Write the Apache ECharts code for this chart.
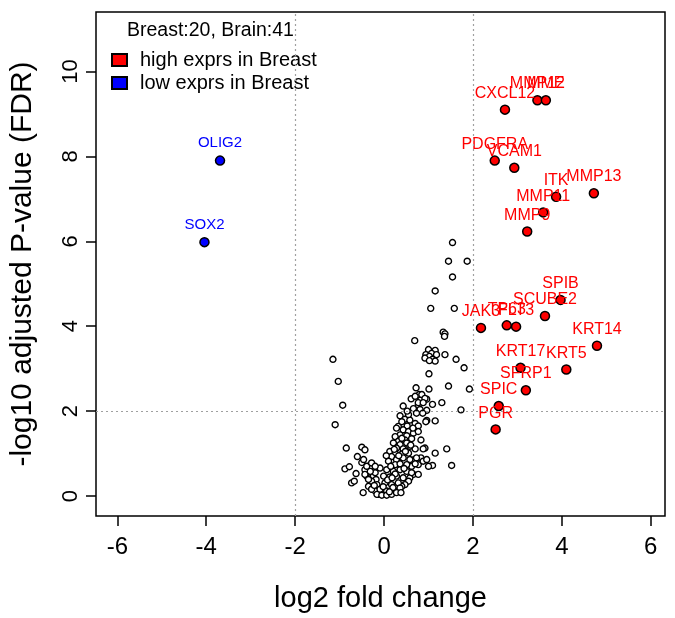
<!DOCTYPE html>
<html>
<head>
<meta charset="utf-8">
<script src="https://cdn.jsdelivr.net/npm/echarts@6/dist/echarts.min.js"></script>
<style>
html,body{margin:0;padding:0;background:#fff;}
#chart{width:675px;height:618px;}
</style>
</head>
<body>
<div id="chart"></div>
<script>
// ---- data ----
const xTicks = [-6, -4, -2, 0, 2, 4, 6];
const yTicks = [0, 2, 4, 6, 8, 10];

const highGenes = ["MMP12","MME","CXCL12","PDGFRA","VCAM1","MMP13","ITK","MMP11","MMP9",
  "SPIB","SCUBE2","JAK3","TP63","FLT3","KRT14","KRT5","KRT17","SFRP1","SPIC","PGR"];
const highX = [3.45,3.64,2.72,2.49,2.93,4.72,3.87,3.58,3.22,
  3.97,3.62,2.18,2.76,2.97,4.79,4.10,3.07,3.19,2.58,2.51];
const highY = [9.32,9.32,9.10,7.90,7.73,7.13,7.05,6.68,6.23,
  4.62,4.24,3.96,4.02,3.99,3.54,2.98,3.02,2.49,2.12,1.57];

const lowGenes = ["OLIG2","SOX2"];
const lowX = [-3.69,-4.04];
const lowY = [7.90,5.98];

const otherX = [1.54,1.45,1.87,1.54,1.15,1.05,1.58,1.33,1.37,1.36,0.69,-1.15,
  1.00,1.15,1.07,0.94,1.18,1.02,0.92,1.09,1.15,1.02,1.37,1.62,1.80,1.01,-1.03,0.72,1.45,1.92,1.01,0.79,0.61,0.96,0.82,-0.93,0.43,0.77,1.09,1.30,
  -1.10,1.73,1.15,0.96,0.94,-0.85,-0.50,-0.43,-0.60,-0.50,-0.88,-0.78,-0.63,-0.73,-0.67,
  1.41,1.52,1.15,1.09,0.83,0.92,0.83,0.68,1.00,0.77,0.62,0.66,0.58,0.55,0.47,0.40,
  -0.43,-0.35,-0.28,-0.24,-0.39,-0.31,-0.24,-0.18,-0.47,-0.35,-0.28,-0.20,-0.13,-0.05,0.02,0.10,
  0.85,0.92,0.77,0.88,0.66,0.81,0.96,0.73,0.87,
  0.36,0.47,0.58,0.70,0.52,0.77,0.32,
  0.28,0.43,0.55,0.36,0.25,0.51,0.66,0.77,0.47,0.32,0.40,
  0.21,0.36,0.51,0.28,0.43,0.58,0.13,0.25,0.40,0.55,0.70,0.88,
  0.17,0.28,0.43,0.58,0.73,0.10,0.25,0.36,0.51,0.70,0.88,0.96,
  -0.09,0.06,0.21,0.36,0.51,0.62,0.77,-0.20,-0.01,0.13,0.28,0.43,
  -0.28,-0.16,0.02,0.17,0.32,-0.09,0.06,0.21,0.36,-0.28,
  -0.16,-0.05,0.06,0.17,0.28,
  -0.46,-0.39,-0.31,-0.43,-0.35,-0.28,-0.20,
  0.20,0.12,-0.02,0.08,0.25,0.45,0.15,0.33,0.48,0.62,0.40,0.55,0.65,0.23,0.05,0.38,-0.22,0.60,0.18,0.70,0.52];
const otherY = [5.97,5.53,5.53,5.16,4.83,4.42,4.42,3.86,3.82,3.76,3.66,3.22,
  3.45,3.43,3.36,3.33,3.33,3.29,3.25,3.22,3.18,3.19,3.33,3.22,3.02,2.88,2.70,2.55,2.59,2.52,2.52,2.39,2.29,2.28,2.26,2.14,2.12,2.14,2.16,2.20,
  1.68,2.03,1.77,1.78,1.75,1.13,1.15,1.09,0.93,0.79,0.64,0.69,0.53,0.31,0.35,
  1.11,0.72,1.01,0.72,1.32,1.13,0.90,0.86,0.70,0.74,0.70,0.51,0.43,0.35,0.27,0.23,
  0.62,0.70,0.66,0.58,0.47,0.43,0.47,0.39,0.08,0.23,0.16,0.12,0.04,0.04,0.04,0.06,
  2.39,2.30,2.20,2.20,2.06,2.04,2.02,1.95,1.95,
  1.89,1.81,1.79,1.71,1.65,1.65,1.64,
  1.60,1.56,1.52,1.44,1.40,1.42,1.48,1.52,1.32,1.29,1.36,
  1.25,1.21,1.25,1.13,1.11,1.17,1.05,1.01,0.99,1.01,1.11,1.11,
  0.93,0.86,0.90,0.86,0.90,0.82,0.74,0.76,0.74,0.76,0.82,0.86,
  0.66,0.62,0.58,0.62,0.58,0.55,0.51,0.55,0.47,0.45,0.47,0.43,
  0.35,0.27,0.31,0.27,0.31,0.16,0.12,0.16,0.19,0.16,
  0.04,0.02,0.02,0.04,0.08,
  0.86,0.70,0.58,0.51,0.39,0.78,0.70,
  0.20,0.10,0.22,0.38,0.52,0.65,0.70,0.95,1.05,1.35,1.75,1.92,1.60,1.10,0.95,0.08,0.25,1.20,0.43,2.35,2.00];

const countText = "Breast:20, Brain:41";
const highName = "high exprs in Breast";
const lowName = "low exprs in Breast";

// ---- chart ----
const FONT = "Liberation Sans, Arial, sans-serif";
const chart = echarts.init(document.getElementById('chart'), null, {renderer:'canvas'});

const otherData = otherX.map((x,i)=>[x, otherY[i]]);
const highData = highGenes.map((g,i)=>({name:g, value:[highX[i], highY[i]]}));
const lowData = lowGenes.map((g,i)=>({name:g, value:[lowX[i], lowY[i]]}));

const option = {
  backgroundColor:'#fff',
  animation:false,
  title:{
    text: countText, left:127, top:21, padding:0,
    textStyle:{fontFamily:FONT, fontSize:19.5, fontWeight:'normal', color:'#000'}
  },
  legend:{
    data:[highName, lowName],
    orient:'vertical', left:111, top:50, padding:0,
    icon:'rect', itemWidth:15, itemHeight:12, itemGap:3,
    textStyle:{fontFamily:FONT, fontSize:20, lineHeight:20, color:'#000', padding:[0,0,0,8]}
  },
  grid:{left:96, top:12, width:569, height:508, show:true, borderColor:'#000', borderWidth:1.5, backgroundColor:'transparent'},
  xAxis:{
    type:'value', min:-6.48, max:6.32,
    name:'log2 fold change', nameLocation:'middle', nameGap:68,
    nameTextStyle:{fontFamily:FONT, fontSize:29, color:'#000'},
    axisLine:{show:false, onZero:false},
    splitLine:{show:false},
    axisTick:{show:true, inside:false, length:10, customValues:xTicks, lineStyle:{color:'#000', width:1.5}},
    axisLabel:{show:true, customValues:xTicks, margin:19, fontFamily:FONT, fontSize:24, color:'#000'}
  },
  yAxis:{
    type:'value', min:-0.47, max:11.40,
    name:'-log10 adjusted P-value (FDR)', nameLocation:'middle', nameGap:58, nameRotate:90,
    nameTextStyle:{fontFamily:FONT, fontSize:30, color:'#000'},
    axisLine:{show:false, onZero:false},
    splitLine:{show:false},
    axisTick:{show:true, inside:false, length:10, customValues:yTicks, lineStyle:{color:'#000', width:1.5}},
    axisLabel:{show:true, customValues:yTicks, rotate:90, margin:14, fontFamily:FONT, fontSize:22, color:'#000'}
  },
  series:[
    {
      type:'scatter', name:'other', data:otherData,
      symbol:'circle', symbolSize:6,
      itemStyle:{color:'#fff', borderColor:'#000', borderWidth:1.4, opacity:1},
      markLine:{
        silent:true, symbol:'none', label:{show:false},
        lineStyle:{color:'#a0a0a0', type:[2,3], width:1.2},
        data:[{xAxis:-2},{xAxis:2},{yAxis:2}]
      },
      z:2
    },
    {
      type:'scatter', name:highName, data:highData,
      symbol:'circle', symbolSize:9,
      itemStyle:{color:'#ff0000', borderColor:'#000', borderWidth:1.5, opacity:1},
      label:{show:true, position:'top', distance:3, formatter:'{b}', fontFamily:FONT, fontSize:16, color:'#ff0000', opacity:1},
      z:3
    },
    {
      type:'scatter', name:lowName, data:lowData,
      symbol:'circle', symbolSize:9,
      itemStyle:{color:'#0000ff', borderColor:'#000', borderWidth:1.5, opacity:1},
      label:{show:true, position:'top', distance:5, formatter:'{b}', fontFamily:FONT, fontSize:15, color:'#0000ff', opacity:1},
      z:3
    }
  ]
};
chart.setOption(option);
</script>
</body>
</html>
